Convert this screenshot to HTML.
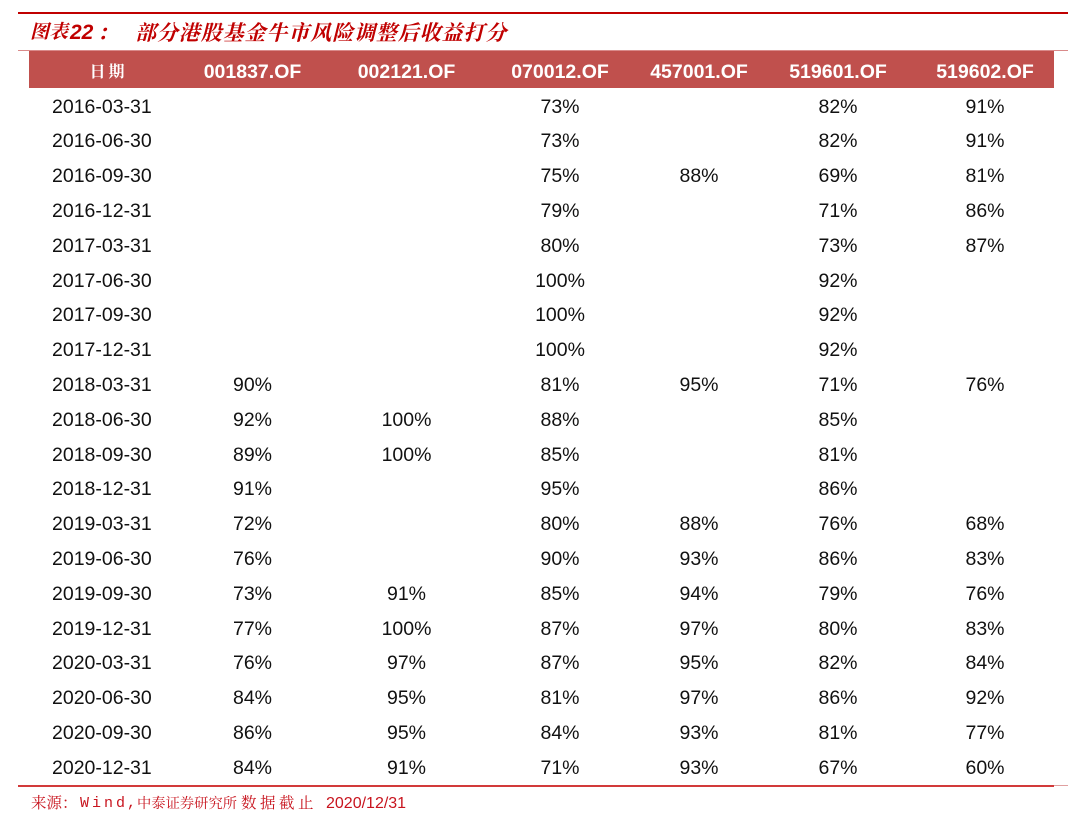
<!DOCTYPE html>
<html><head><meta charset="utf-8"><style>
*{margin:0;padding:0;box-sizing:border-box}
body{width:1080px;height:822px;background:#fff;position:relative;overflow:hidden;font-family:"Liberation Sans","Noto Sans CJK SC",sans-serif;color:#111}
.abs{position:absolute}
.ttl{position:absolute;top:22px;line-height:22px;height:22px;color:#c00000;font-style:italic;white-space:nowrap}
.cj{font-family:"Liberation Serif","Noto Serif CJK SC",serif;font-size:21px;font-weight:bold}
.hd{position:absolute;top:55px;height:35px;line-height:35px;color:#fff;font-weight:bold;font-size:19.5px;width:130px;text-align:center;white-space:nowrap}
.r{position:absolute;left:0;width:1080px;height:34.8px;line-height:34.8px;font-size:19.5px}
.r span{position:absolute;top:0;width:120px;text-align:center;white-space:nowrap}
.r span.d{left:52px;text-align:left;width:140px}
.r .c1{left:192.5px}.r .c2{left:346.5px}.r .c3{left:500px}.r .c4{left:639px}.r .c5{left:778px}.r .c6{left:925px}
.src{position:absolute;top:796px;height:16px;line-height:16px;color:#c8141e;white-space:nowrap}
</style></head><body>
<div class="abs" style="left:18px;top:12px;width:1050px;height:2px;background:#c00000"></div>
<div class="ttl cj" style="left:30px;font-size:19px">图表</div>
<div class="ttl" style="left:70px;font-size:21px;font-weight:bold;font-family:'Liberation Sans',sans-serif">22</div>
<div class="ttl cj" style="left:97px">：</div>
<div class="ttl cj" style="left:135px;letter-spacing:0.9px">部分港股基金牛市风险调整后收益打分</div>

<div class="abs" style="left:18px;top:50px;width:1050px;height:1px;background:#d98a8a"></div>
<div class="abs" style="left:29px;top:51px;width:1025px;height:37px;background:#c0504d"></div>
<div class="hd" style="left:42px;font-family:'Liberation Serif','Noto Serif CJK SC',serif;font-size:16px;letter-spacing:3px;padding-left:3px">日期</div>
<div class="hd" style="left:187.5px">001837.OF</div>
<div class="hd" style="left:341.5px">002121.OF</div>
<div class="hd" style="left:495px">070012.OF</div>
<div class="hd" style="left:634px">457001.OF</div>
<div class="hd" style="left:773px">519601.OF</div>
<div class="hd" style="left:920px">519602.OF</div>

<div class="r" style="top:89.6px"><span class="d">2016-03-31</span><span class="c3">73%</span><span class="c5">82%</span><span class="c6">91%</span></div>
<div class="r" style="top:124.4px"><span class="d">2016-06-30</span><span class="c3">73%</span><span class="c5">82%</span><span class="c6">91%</span></div>
<div class="r" style="top:159.2px"><span class="d">2016-09-30</span><span class="c3">75%</span><span class="c4">88%</span><span class="c5">69%</span><span class="c6">81%</span></div>
<div class="r" style="top:194px"><span class="d">2016-12-31</span><span class="c3">79%</span><span class="c5">71%</span><span class="c6">86%</span></div>
<div class="r" style="top:228.8px"><span class="d">2017-03-31</span><span class="c3">80%</span><span class="c5">73%</span><span class="c6">87%</span></div>
<div class="r" style="top:263.6px"><span class="d">2017-06-30</span><span class="c3">100%</span><span class="c5">92%</span></div>
<div class="r" style="top:298.4px"><span class="d">2017-09-30</span><span class="c3">100%</span><span class="c5">92%</span></div>
<div class="r" style="top:333.2px"><span class="d">2017-12-31</span><span class="c3">100%</span><span class="c5">92%</span></div>
<div class="r" style="top:368px"><span class="d">2018-03-31</span><span class="c1">90%</span><span class="c3">81%</span><span class="c4">95%</span><span class="c5">71%</span><span class="c6">76%</span></div>
<div class="r" style="top:402.8px"><span class="d">2018-06-30</span><span class="c1">92%</span><span class="c2">100%</span><span class="c3">88%</span><span class="c5">85%</span></div>
<div class="r" style="top:437.6px"><span class="d">2018-09-30</span><span class="c1">89%</span><span class="c2">100%</span><span class="c3">85%</span><span class="c5">81%</span></div>
<div class="r" style="top:472.4px"><span class="d">2018-12-31</span><span class="c1">91%</span><span class="c3">95%</span><span class="c5">86%</span></div>
<div class="r" style="top:507.2px"><span class="d">2019-03-31</span><span class="c1">72%</span><span class="c3">80%</span><span class="c4">88%</span><span class="c5">76%</span><span class="c6">68%</span></div>
<div class="r" style="top:542px"><span class="d">2019-06-30</span><span class="c1">76%</span><span class="c3">90%</span><span class="c4">93%</span><span class="c5">86%</span><span class="c6">83%</span></div>
<div class="r" style="top:576.8px"><span class="d">2019-09-30</span><span class="c1">73%</span><span class="c2">91%</span><span class="c3">85%</span><span class="c4">94%</span><span class="c5">79%</span><span class="c6">76%</span></div>
<div class="r" style="top:611.6px"><span class="d">2019-12-31</span><span class="c1">77%</span><span class="c2">100%</span><span class="c3">87%</span><span class="c4">97%</span><span class="c5">80%</span><span class="c6">83%</span></div>
<div class="r" style="top:646.4px"><span class="d">2020-03-31</span><span class="c1">76%</span><span class="c2">97%</span><span class="c3">87%</span><span class="c4">95%</span><span class="c5">82%</span><span class="c6">84%</span></div>
<div class="r" style="top:681.2px"><span class="d">2020-06-30</span><span class="c1">84%</span><span class="c2">95%</span><span class="c3">81%</span><span class="c4">97%</span><span class="c5">86%</span><span class="c6">92%</span></div>
<div class="r" style="top:716px"><span class="d">2020-09-30</span><span class="c1">86%</span><span class="c2">95%</span><span class="c3">84%</span><span class="c4">93%</span><span class="c5">81%</span><span class="c6">77%</span></div>
<div class="r" style="top:750.8px"><span class="d">2020-12-31</span><span class="c1">84%</span><span class="c2">91%</span><span class="c3">71%</span><span class="c4">93%</span><span class="c5">67%</span><span class="c6">60%</span></div>

<div class="abs" style="left:18px;top:784.5px;width:1036px;height:2px;background:#d23a3a"></div>
<div class="abs" style="left:1054px;top:785px;width:14px;height:1px;background:#e0a0a0"></div>

<div class="src" style="left:31px;font-family:'Liberation Serif','Noto Serif CJK SC',serif;font-size:15.5px">来源：</div>
<div class="src" style="left:80px;font-family:'Liberation Mono',monospace;font-size:15px;letter-spacing:3px">Wind</div>
<div class="src" style="left:127px;font-family:'Liberation Mono',monospace;font-size:15px">,</div>
<div class="src" style="left:137px;font-family:'Liberation Serif','Noto Serif CJK SC',serif;font-size:14.3px">中泰证券研究所</div>
<div class="src" style="left:241px;font-family:'Liberation Serif','Noto Serif CJK SC',serif;font-size:15.5px;letter-spacing:3.5px">数据截止</div>
<div class="src" style="left:326px;font-family:'Liberation Sans',sans-serif;font-size:16px">2020/12/31</div>
</body></html>
